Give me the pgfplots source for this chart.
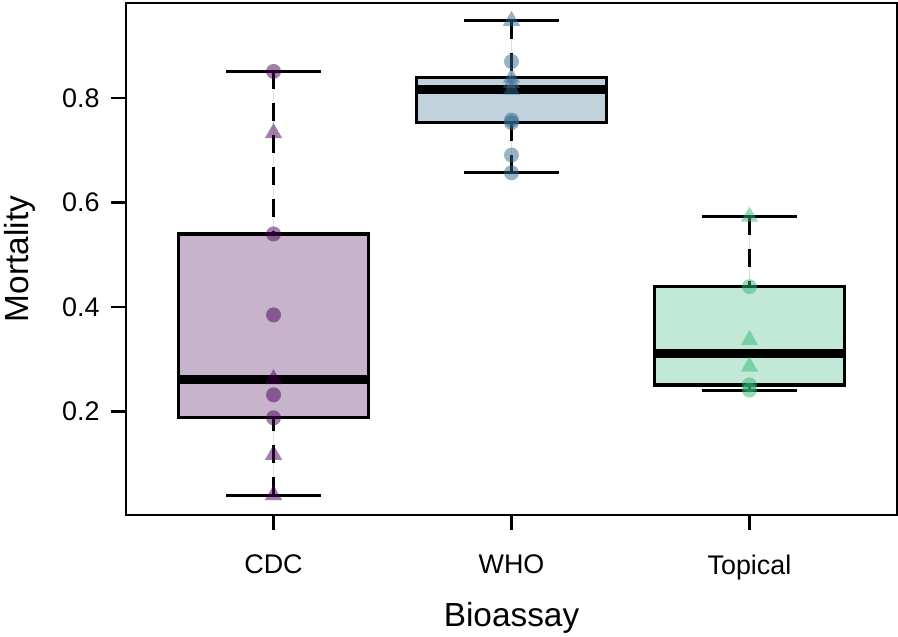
\documentclass[border=0pt]{standalone}
\usepackage{fontspec}
\setmainfont{Liberation Sans}
\usepackage{pgfplots}
\pgfplotsset{compat=1.18}
\usepgfplotslibrary{statistics}
\definecolor{cdc}{HTML}{440154}
\definecolor{who}{HTML}{31688E}
\definecolor{topc}{HTML}{35B779}
\pgfplotsset{
  rwhisk/.style={
    boxplot/draw/lower whisker/.code={%
      \draw[black, line width=3bp, dash pattern=on 18bp off 14bp]
        (boxplot box cs:\pgfplotsboxplotvalue{lower whisker},0.5) -- (boxplot box cs:\pgfplotsboxplotvalue{lower quartile},0.5);
      \draw[black, line width=3bp]
        (boxplot box cs:\pgfplotsboxplotvalue{lower whisker},0.25) -- (boxplot box cs:\pgfplotsboxplotvalue{lower whisker},0.75);
    },
    boxplot/draw/upper whisker/.code={%
      \draw[black, line width=3bp, dash pattern=on 18bp off 14bp]
        (boxplot box cs:\pgfplotsboxplotvalue{upper whisker},0.5) -- (boxplot box cs:\pgfplotsboxplotvalue{upper quartile},0.5);
      \draw[black, line width=3bp]
        (boxplot box cs:\pgfplotsboxplotvalue{upper whisker},0.25) -- (boxplot box cs:\pgfplotsboxplotvalue{upper whisker},0.75);
    },
  },
  pts/.style={only marks, color=#1, mark options={draw opacity=0, fill=#1, fill opacity=0.5}},
}
\begin{document}
\begin{tikzpicture}
\useasboundingbox (-126bp,-122bp) rectangle (772bp,515bp);
\begin{axis}[
  at={(0,0)}, anchor=south west,
  scale only axis, width=771bp, height=512bp,
  xmin=0.38, xmax=3.62, ymin=0.002, ymax=0.982,
  axis line style={line width=2.8bp},
  every tick/.style={black, line width=2.4bp},
  tick align=outside, tick pos=left,
  major tick length=15bp,
  xtick={1,2,3}, xticklabels={CDC,WHO,Topical},
  ytick={0.2,0.4,0.6,0.8}, yticklabels={0.2,0.4,0.6,0.8},
  ticklabel style={font=\fontsize{27}{32}\selectfont},
  yticklabel style={anchor=east, xshift=-8bp},
  xticklabel style={yshift=-21bp},
  xlabel={Bioassay}, ylabel={Mortality},
  label style={font=\fontsize{33.5}{40}\selectfont},
  xlabel style={at={(axis description cs:0.5,0)}, anchor=center, yshift=-103bp},
  ylabel style={at={(axis description cs:0,0.5)}, anchor=center, yshift=106bp},
  boxplot/draw direction=y,
  boxplot/every median/.style={line width=9bp},
  clip=false,
]
% boxes
\addplot[rwhisk, draw=black, line width=3.2bp, fill=cdc!30,
  boxplot prepared={draw position=1, box extend=0.8,
    lower whisker=0.040, lower quartile=0.188, median=0.262,
    upper quartile=0.540, upper whisker=0.851}] coordinates {};
\addplot[rwhisk, draw=black, line width=3.2bp, fill=who!30,
  boxplot prepared={draw position=2, box extend=0.8,
    lower whisker=0.657, lower quartile=0.753, median=0.816,
    upper quartile=0.839, upper whisker=0.948}] coordinates {};
\addplot[rwhisk, draw=black, line width=3.2bp, fill=topc!30,
  boxplot prepared={draw position=3, box extend=0.8,
    lower whisker=0.241, lower quartile=0.251, median=0.3115,
    upper quartile=0.439, upper whisker=0.573}] coordinates {};
% points
\addplot[pts=cdc, mark=*, mark size=7.5bp]
  coordinates {(1,0.851) (1,0.540) (1,0.385) (1,0.232) (1,0.188)};
\addplot[pts=cdc, mark=triangle*, mark size=10bp]
  coordinates {(1,0.733) (1,0.262) (1,0.117) (1,0.040)};
\addplot[pts=who, mark=*, mark size=7.5bp]
  coordinates {(2,0.870) (2,0.758) (2,0.753) (2,0.691) (2,0.657)};
\addplot[pts=who, mark=triangle*, mark size=10bp]
  coordinates {(2,0.948) (2,0.839) (2,0.829) (2,0.816)};
\addplot[pts=topc, mark=*, mark size=7.5bp]
  coordinates {(3,0.439) (3,0.251) (3,0.241)};
\addplot[pts=topc, mark=triangle*, mark size=10bp]
  coordinates {(3,0.573) (3,0.337) (3,0.286)};
\end{axis}
\end{tikzpicture}
\end{document}
